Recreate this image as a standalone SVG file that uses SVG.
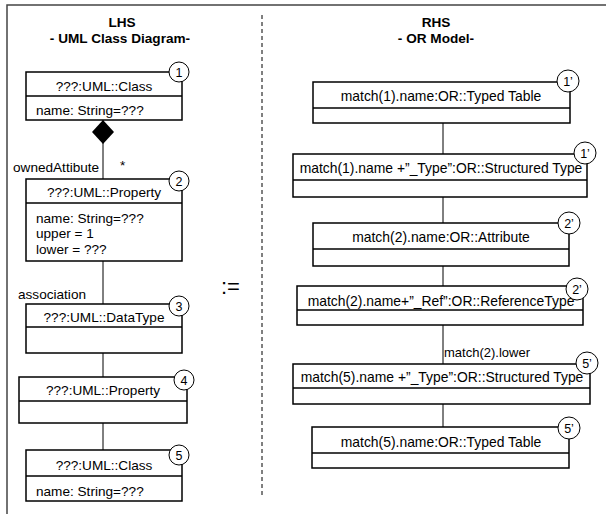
<svg xmlns="http://www.w3.org/2000/svg" width="606" height="514" viewBox="0 0 606 514">
  <defs>
    <style>
      text { font-family: "Liberation Sans", Arial, sans-serif; font-size: 13.6px; fill: #000; }
      .hdr { font-weight: bold; text-anchor: middle; }
      .title { text-anchor: middle; }
      .rt { font-size: 13.9px; }
      .box { fill: #fff; stroke: #000; stroke-width: 1.5; }
      .div { stroke: #000; stroke-width: 1.5; }
      .tag { fill: #fff; stroke: #000; stroke-width: 1; }
      .tagtxt { text-anchor: middle; font-size: 12.5px; }
      .edge { fill: none; stroke: #000; stroke-width: 1; }
      .frame { fill: none; stroke: #444; stroke-width: 1.5; }
    </style>
    <marker id="composite" markerUnits="userSpaceOnUse" viewBox="0 0 24 22" refX="24" refY="11" markerWidth="24" markerHeight="22" orient="auto">
      <path d="M0,11 L12,0 L24,11 L12,22 Z" fill="#000"/>
    </marker>
  </defs>

  <!-- frame and separator -->
  <path class="frame" d="M7,514 V5 H606"/>
  <line x1="262" y1="15" x2="262" y2="498" stroke="#000" stroke-width="1" stroke-dasharray="4,3"/>

  <!-- headings -->
  <text class="hdr" x="122" y="27">LHS</text>
  <text class="hdr" x="120" y="43">- UML Class Diagram-</text>
  <text class="hdr" x="436" y="27">RHS</text>
  <text class="hdr" x="436" y="43">- OR Model-</text>
  <text x="221" y="294" style="font-size:22px">:=</text>

  <!-- connectors -->
  <g id="connectors">
    <path class="edge" d="M103,179 V120" marker-end="url(#composite)"/>
    <text x="13" y="172">ownedAttibute</text>
    <text x="120" y="170">*</text>
    <path class="edge" d="M103,261 V304"/>
    <text x="18" y="299">association</text>
    <path class="edge" d="M103,353 V377"/>
    <path class="edge" d="M103,423 V450"/>

    <path class="edge" d="M443,123 V154"/>
    <path class="edge" d="M443,197 V223"/>
    <path class="edge" d="M443,266 V286"/>
    <path class="edge" d="M443,325 V364"/>
    <text x="444" y="357" style="font-size:13px">match(2).lower</text>
    <path class="edge" d="M443,404 V427"/>
  </g>

  <!-- LHS nodes -->
  <g id="n1">
    <rect class="box" x="26" y="72" width="156" height="48"/>
    <line class="div" x1="26" y1="96" x2="182" y2="96"/>
    <text class="title" x="104" y="91">???:UML::Class</text>
    <text x="36" y="115">name: String=???</text>
    <circle class="tag" cx="179" cy="72" r="10"/>
    <text class="tagtxt" x="179" y="76.5">1</text>
  </g>
  <g id="n2">
    <rect class="box" x="26" y="179" width="156" height="82"/>
    <line class="div" x1="26" y1="203" x2="182" y2="203"/>
    <text class="title" x="104" y="197">???:UML::Property</text>
    <text x="36" y="223">name: String=???</text>
    <text x="36" y="238">upper = 1</text>
    <text x="36" y="254">lower = ???</text>
    <circle class="tag" cx="179" cy="181" r="10"/>
    <text class="tagtxt" x="179" y="185.5">2</text>
  </g>
  <g id="n3">
    <rect class="box" x="26" y="304" width="156" height="49"/>
    <line class="div" x1="26" y1="327" x2="182" y2="327"/>
    <text class="title" x="104" y="322">???:UML::DataType</text>
    <circle class="tag" cx="179" cy="306" r="10"/>
    <text class="tagtxt" x="179" y="310.5">3</text>
  </g>
  <g id="n4">
    <rect class="box" x="19" y="377" width="168" height="46"/>
    <line class="div" x1="19" y1="401" x2="187" y2="401"/>
    <text class="title" x="103" y="395">???:UML::Property</text>
    <circle class="tag" cx="184" cy="380" r="10"/>
    <text class="tagtxt" x="184" y="384.5">4</text>
  </g>
  <g id="n5">
    <rect class="box" x="26" y="450" width="156" height="51"/>
    <line class="div" x1="26" y1="476" x2="182" y2="476"/>
    <text class="title" x="104" y="470">???:UML::Class</text>
    <text x="36" y="496">name: String=???</text>
    <circle class="tag" cx="179" cy="455" r="10"/>
    <text class="tagtxt" x="179" y="459.5">5</text>
  </g>

  <!-- RHS nodes -->
  <g id="r1">
    <rect class="box" x="313" y="82" width="257" height="41"/>
    <line class="div" x1="313" y1="108" x2="570" y2="108"/>
    <text class="title rt" x="441" y="101">match(1).name:OR::Typed Table</text>
    <circle class="tag" cx="568" cy="81" r="11"/>
    <text class="tagtxt" x="568" y="85.5">1’</text>
  </g>
  <g id="r2">
    <rect class="box" x="293" y="154" width="294" height="43"/>
    <line class="div" x1="293" y1="180" x2="587" y2="180"/>
    <text class="title rt" x="441" y="173">match(1).name +”_Type”:OR::Structured Type</text>
    <circle class="tag" cx="585" cy="153" r="11"/>
    <text class="tagtxt" x="585" y="157.5">1’</text>
  </g>
  <g id="r3">
    <rect class="box" x="313" y="223" width="256" height="43"/>
    <line class="div" x1="313" y1="249" x2="569" y2="249"/>
    <text class="title rt" x="441" y="242">match(2).name:OR::Attribute</text>
    <circle class="tag" cx="569" cy="223" r="11"/>
    <text class="tagtxt" x="569" y="227.5">2’</text>
  </g>
  <g id="r4">
    <rect class="box" x="297" y="286" width="286" height="39"/>
    <line class="div" x1="297" y1="310" x2="583" y2="310"/>
    <text class="title rt" x="441" y="306">match(2).name+”_Ref”:OR::ReferenceType</text>
    <circle class="tag" cx="577" cy="289" r="11"/>
    <text class="tagtxt" x="577" y="293.5">2’</text>
  </g>
  <g id="r5">
    <rect class="box" x="293" y="364" width="297" height="40"/>
    <line class="div" x1="293" y1="388" x2="590" y2="388"/>
    <text class="title rt" x="442" y="382">match(5).name +”_Type”:OR::Structured Type</text>
    <circle class="tag" cx="587" cy="363" r="11"/>
    <text class="tagtxt" x="587" y="367.5">5’</text>
  </g>
  <g id="r6">
    <rect class="box" x="312" y="427" width="257" height="41"/>
    <line class="div" x1="312" y1="453" x2="569" y2="453"/>
    <text class="title rt" x="441" y="447">match(5).name:OR::Typed Table</text>
    <circle class="tag" cx="569" cy="428" r="11"/>
    <text class="tagtxt" x="569" y="432.5">5’</text>
  </g>
</svg>
